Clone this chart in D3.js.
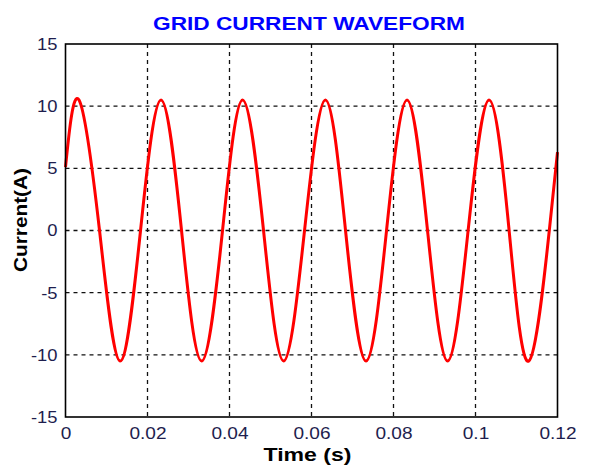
<!DOCTYPE html>
<html>
<head>
<meta charset="utf-8">
<script src="https://cdn.jsdelivr.net/npm/d3@7"></script>
<style>
  body { margin: 0; background: #fff; }
  svg { display: block; }
</style>
</head>
<body>
<div class="chart"></div>
<script>
// values: peaks, troughs and zero crossings of the current
const time = [
  0, 0.0033, 0.0083, 0.0133, 0.0183,
  0.0233, 0.0283, 0.0332, 0.0383,
  0.0432, 0.0483, 0.0532, 0.0583,
  0.0634, 0.0683, 0.0733, 0.0783,
  0.0833, 0.0883, 0.0932, 0.0982,
  0.1033, 0.1082, 0.113, 0.118, 0.12,
];
const current = [
  5.1, 10.5, 0, -10.5, 0,
  10.5, 0, -10.5, 0,
  10.5, 0, -10.5, 0,
  10.5, 0, -10.5, 0,
  10.5, 0, -10.5, 0,
  10.5, 0, -10.5, 0, 6.3,
];
const xTicks = [0, 0.02, 0.04, 0.06, 0.08, 0.1, 0.12];
const xTickLabels = ['0', '0.02', '0.04', '0.06', '0.08', '0.1', '0.12'];
const yTicks = [-15, -10, -5, 0, 5, 10, 15];
const yTickLabels = ['-15', '-10', '-5', '0', '5', '10', '15'];

const width = 591;
const height = 467;
const margin = { top: 44, right: 33.5, bottom: 50, left: 65.5 };
const innerW = width - margin.left - margin.right;
const innerH = height - margin.top - margin.bottom;

const svg = d3
  .select('.chart')
  .append('svg')
  .attr('width', width)
  .attr('height', height)
  .style('font-family', 'Arial, "Liberation Sans", sans-serif');

const g = svg
  .append('g')
  .attr('transform', `translate(${margin.left},${margin.top})`);

const x = d3.scaleLinear().domain([0, 0.12]).range([0, innerW]);
const y = d3.scaleLinear().domain([-15, 15]).range([innerH, 0]);

// grid
g.append('g')
  .selectAll('line')
  .data(xTicks.slice(1, -1))
  .join('line')
  .attr('x1', (d) => x(d))
  .attr('x2', (d) => x(d))
  .attr('y1', 0)
  .attr('y2', innerH)
  .attr('stroke', '#111')
  .attr('stroke-width', 1.3)
  .attr('stroke-dasharray', '4,4');

g.append('g')
  .selectAll('line')
  .data(yTicks.slice(1, -1))
  .join('line')
  .attr('x1', 0)
  .attr('x2', innerW)
  .attr('y1', (d) => y(d))
  .attr('y2', (d) => y(d))
  .attr('stroke', '#111')
  .attr('stroke-width', 1.3)
  .attr('stroke-dasharray', '4,4');

// axes (labels only, frame drawn below)
const xAxis = g
  .append('g')
  .attr('transform', `translate(0,${innerH})`)
  .call(
    d3
      .axisBottom(x)
      .tickValues(xTicks)
      .tickFormat((d, i) => xTickLabels[i])
      .tickSize(0)
      .tickPadding(10)
  );
const yAxis = g.append('g').call(
  d3
    .axisLeft(y)
    .tickValues(yTicks)
    .tickFormat((d, i) => yTickLabels[i])
    .tickSize(0)
    .tickPadding(8)
);
[xAxis, yAxis].forEach((a, k) => {
  a.select('.domain').remove();
  a.selectAll('text')
    .attr('font-size', 17)
    .attr('font-family', 'Arial, "Liberation Sans", sans-serif')
    .attr('fill', '#1e1e4e')
    .each(function () {
      const len = this.getComputedTextLength();
      d3.select(this)
        .attr('textLength', len * (k === 0 ? 1.12 : 1.08))
        .attr('lengthAdjust', 'spacingAndGlyphs');
    });
});

// waveform
const line = d3
  .line()
  .x((d, i) => x(time[i]))
  .y((d) => y(d))
  .curve(d3.curveNatural);

g.append('path')
  .datum(current)
  .attr('fill', 'none')
  .attr('stroke', '#ff0000')
  .attr('stroke-width', 3)
  .attr('stroke-linejoin', 'round')
  .attr('d', line);

// frame
g.append('rect')
  .attr('width', innerW)
  .attr('height', innerH)
  .attr('fill', 'none')
  .attr('stroke', '#000')
  .attr('stroke-width', 1.6);

// titles
svg
  .append('text')
  .attr('x', 309)
  .attr('y', 30)
  .attr('text-anchor', 'middle')
  .attr('font-size', 18.5)
  .attr('font-weight', 'bold')
  .attr('fill', '#0000ff')
  .attr('textLength', 312)
  .attr('lengthAdjust', 'spacingAndGlyphs')
  .text('GRID CURRENT WAVEFORM');

svg
  .append('text')
  .attr('x', 307.5)
  .attr('y', 460.5)
  .attr('text-anchor', 'middle')
  .attr('font-size', 18)
  .attr('font-weight', 'bold')
  .attr('fill', '#000')
  .attr('textLength', 88)
  .attr('lengthAdjust', 'spacingAndGlyphs')
  .text('Time (s)');

svg
  .append('text')
  .attr('transform', 'translate(27,220) rotate(-90)')
  .attr('text-anchor', 'middle')
  .attr('font-size', 18)
  .attr('font-weight', 'bold')
  .attr('fill', '#000')
  .attr('textLength', 104)
  .attr('lengthAdjust', 'spacingAndGlyphs')
  .text('Current(A)');
</script>
</body>
</html>
